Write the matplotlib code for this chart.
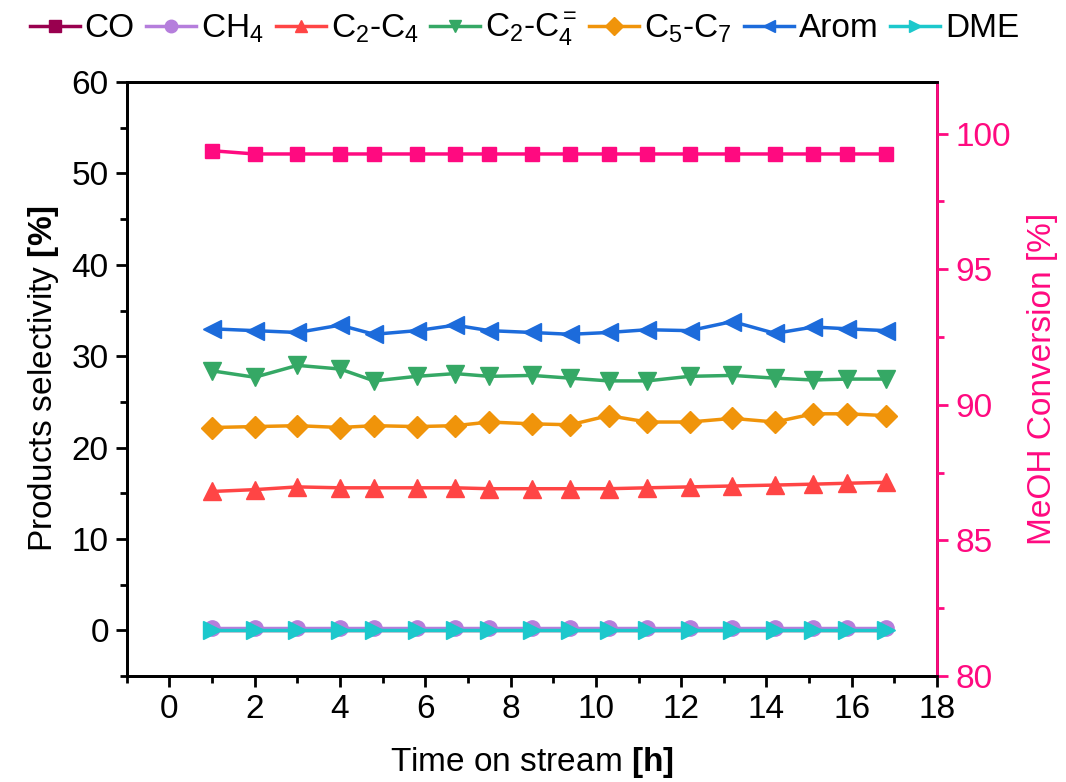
import matplotlib
matplotlib.use("Agg")
import matplotlib.pyplot as plt
from matplotlib.ticker import MultipleLocator

plt.rcParams["font.family"] = ["Liberation Sans", "DejaVu Sans"]
plt.rcParams["mathtext.fontset"] = "custom"
plt.rcParams["mathtext.rm"] = "Liberation Sans"
plt.rcParams["mathtext.it"] = "Liberation Sans"
plt.rcParams["mathtext.bf"] = "Liberation Sans:bold"

# time on stream [h]
time_h = [1.0, 2.0, 3.0, 4.0, 4.8, 5.8, 6.7, 7.5, 8.5, 9.4,
          10.3, 11.2, 12.2, 13.2, 14.2, 15.1, 15.9, 16.8]

# product selectivity [%]
co = [0.0] * 18
ch4 = [0.25] * 18
c2c4 = [15.2, 15.4, 15.7, 15.6, 15.6, 15.6, 15.6, 15.5, 15.5, 15.5,
        15.5, 15.6, 15.7, 15.8, 15.9, 16.0, 16.1, 16.2]
c2c4_ole = [28.4, 27.7, 29.0, 28.6, 27.3, 27.8, 28.1, 27.8, 27.9, 27.6,
            27.3, 27.3, 27.8, 27.9, 27.6, 27.4, 27.5, 27.5]
c5c7 = [22.2, 22.3, 22.4, 22.2, 22.4, 22.3, 22.4, 22.8, 22.6, 22.5,
        23.5, 22.8, 22.8, 23.2, 22.8, 23.7, 23.7, 23.5]
arom = [33.0, 32.8, 32.6, 33.4, 32.4, 32.8, 33.4, 32.8, 32.6, 32.4,
        32.6, 32.9, 32.8, 33.8, 32.5, 33.2, 33.0, 32.8]
dme = [0.0] * 18

# MeOH conversion [%] (right axis)
meoh_conv = [99.37, 99.25, 99.25, 99.25, 99.25, 99.25, 99.25, 99.25, 99.25, 99.25,
             99.25, 99.25, 99.25, 99.25, 99.25, 99.25, 99.25, 99.25]

PINK = "#FF0A80"

# label, values, marker, colour, marker size
series = [
    ("CO", co, "s", "#99004F", 5),
    ("CH$_4$", ch4, "o", "#B57EDC", 11),
    ("C$_2$-C$_4$", c2c4, "^", "#FF4545", 13.5),
    ("C$_2$-C$_4^=$", c2c4_ole, "v", "#35A865", 13.5),
    ("C$_5$-C$_7$", c5c7, "D", "#F0940A", 11),
    ("Arom", arom, "<", "#1C6BDB", 13.5),
    ("DME", dme, ">", "#1CC8CC", 13.5),
]

fig = plt.figure(figsize=(10.66, 7.82), dpi=100)
ax = fig.add_axes([0.119, 0.1355, 0.76, 0.7595])
ax2 = ax.twinx()

handles = []
for label, vals, mk, col, ms in series:
    ax.plot(time_h, vals, "-", color=col, marker=mk, ms=ms, lw=2.5, mec=col)
    # legend proxy with smaller markers
    h, = ax.plot([], [], "-", color=col, marker=mk, ms=9, lw=2.5, label=label)
    handles.append(h)

ax2.plot(time_h, meoh_conv, "-", color=PINK, marker="s", ms=9.5, lw=2.5)

ax.set_xlim(-1, 18)
ax.set_ylim(-5, 60)
ax2.set_ylim(80, 101.9)

ax.xaxis.set_major_locator(MultipleLocator(2))
ax.xaxis.set_minor_locator(MultipleLocator(1))
ax.yaxis.set_major_locator(MultipleLocator(10))
ax.yaxis.set_minor_locator(MultipleLocator(5))
ax2.yaxis.set_major_locator(MultipleLocator(5))
ax2.yaxis.set_minor_locator(MultipleLocator(2.5))

for a in (ax, ax2):
    for sp in a.spines.values():
        sp.set_linewidth(2)
ax2.spines["right"].set_color(PINK)

ax.tick_params(axis="both", which="major", direction="out", length=8,
               width=2, labelsize=24, pad=5)
ax.tick_params(axis="both", which="minor", direction="out", length=5, width=2)
ax2.tick_params(axis="y", which="major", direction="out", length=8, width=2,
                labelsize=24, colors=PINK, pad=5)
ax2.tick_params(axis="y", which="minor", direction="out", length=5, width=2,
                colors=PINK)

ax.set_xlabel("Time on stream $\\mathbf{[h]}$", fontsize=24, labelpad=14)
ax.set_ylabel("Products selectivity $\\mathbf{[\\%]}$", fontsize=24, labelpad=8)
ax2.set_ylabel("MeOH Conversion [%]", fontsize=24, color=PINK, labelpad=12)

fig.legend(handles=handles, loc="center", bbox_to_anchor=(0.492, 0.962),
           ncol=7, frameon=False, fontsize=24, handlelength=1.5,
           handletextpad=0.15, columnspacing=0.35, borderaxespad=0)

fig.savefig("out.png", dpi=100)
